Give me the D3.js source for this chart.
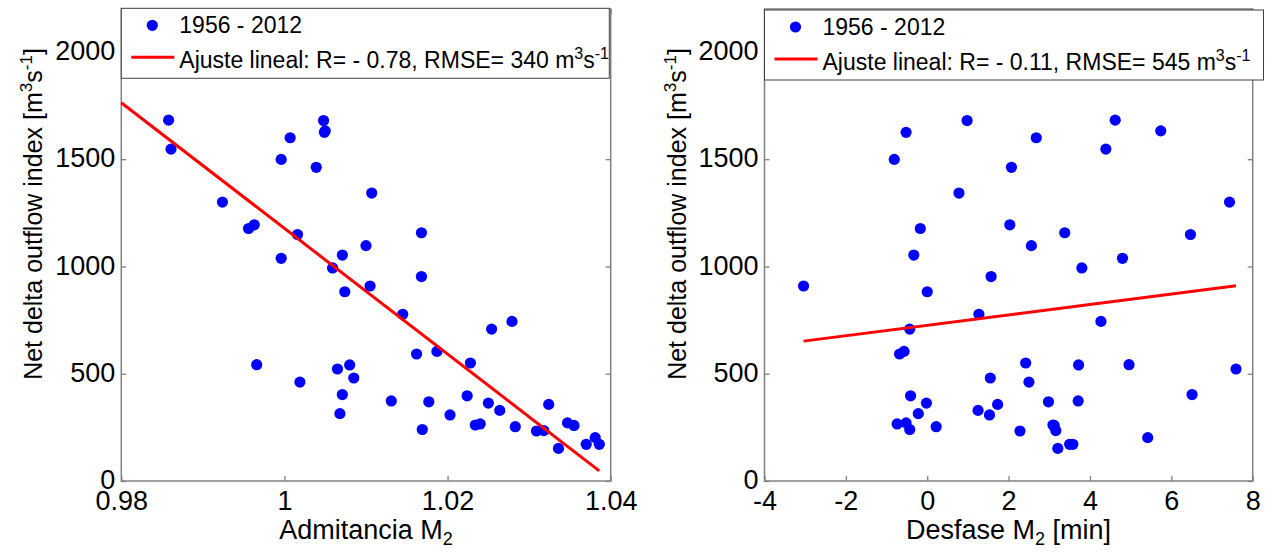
<!DOCTYPE html>
<html><head><meta charset="utf-8">
<script src="https://cdn.jsdelivr.net/npm/d3@7"></script>
<style>body{margin:0;background:#fff} text{font-family:"Liberation Sans",Arial,sans-serif;fill:#000}</style>
</head><body><svg id="c" width="1272" height="557"></svg>
<script>
// Data (one entry per year, 1956-2012 as visible)
const admitancia = [0.9858,0.9861,0.9924,0.9956,0.9963,0.9996,1.0007,0.9996,1.0016,1.0048,1.0049,1.0050,1.0039,1.0071,1.0059,1.0074,1.0107,1.0168,1.0100,1.0168,1.0105,0.9966,1.0019,1.0065,1.0080,1.0085,1.0071,1.0068,1.0145,1.0162,1.0187,1.0228,1.0254,1.0279,1.0131,1.0177,1.0169,1.0203,1.0224,1.0234,1.0240,1.0250,1.0264,1.0283,1.0309,1.0318,1.0324,1.0336,1.0347,1.0355,1.0370,1.0381,1.0386];
const desfase = [4.62,4.39,7.43,-0.17,2.03,-0.81,2.68,4.80,6.47,0.98,-0.52,5.74,2.07,-0.33,3.80,0.00,0.78,3.38,2.56,1.57,-3.04,4.96,2.50,7.59,3.72,1.55,6.51,-0.22,1.27,-0.68,-0.57,2.42,-0.43,4.27,3.71,2.98,-0.43,1.53,-0.41,3.09,-0.74,-0.02,1.25,0.22,2.28,3.16,1.73,3.21,-0.52,3.12,3.50,5.42,3.58];
const ndoi = [1682,1547,1300,1177,1194,1499,1600,1038,1149,1680,1625,1632,1462,1053,993,882,1342,1157,1097,953,909,542,461,522,541,480,403,314,777,592,604,550,708,744,373,369,240,308,397,261,266,363,329,253,233,235,357,152,271,259,171,202,171];
// Linear fit end points
const fitAdmX = [0.98, 1.0386];
const fitAdmY = [1763, 47];
const fitDesX = [-3.04, 7.59];
const fitDesY = [652, 910];
// Ticks / labels
const admTicks = [0.98, 1, 1.02, 1.04];
const admTickLabels = ["0.98", "1", "1.02", "1.04"];
const desTicks = [-4, -2, 0, 2, 4, 6, 8];
const yTicks = [0, 500, 1000, 1500, 2000];
const seriesLabel = "1956 - 2012";
const fitR = ["- 0.78", "- 0.11"];
const fitRMSE = ["340", "545"];

const svg = d3.select("#c");
const FONT = '"Liberation Sans", Arial, sans-serif';
const axisColor = "#808080";

const panels = [
  {x0:121.3, x1:610.7, xDomain:[0.98,1.04], xs:admitancia, ticks:admTicks, tickFmt:(d,i)=>admTickLabels[i],
   fitX:fitAdmX, fitY:fitAdmY, xlabel:"Admitancia M", xlabelTail:"", legTop:8.3, legW:488, r:fitR[0], rmse:fitRMSE[0]},
  {x0:764.5, x1:1252.7, xDomain:[-4,8], xs:desfase, ticks:desTicks, tickFmt:d=>String(d),
   fitX:fitDesX, fitY:fitDesY, xlabel:"Desfase M", xlabelTail:" [min]", legTop:10, legW:499, r:fitR[1], rmse:fitRMSE[1]}
];
const yTop = 9, yBot = 481;

panels.forEach(p => {
  const x = d3.scaleLinear().domain(p.xDomain).range([p.x0, p.x1]);
  const y = d3.scaleLinear().domain([0, 2200]).range([yBot, yTop]);
  const g = svg.append("g");

  // Bottom axis (ticks inside)
  g.append("g").attr("transform", `translate(0,${yBot})`)
    .call(d3.axisBottom(x).tickValues(p.ticks).tickFormat(p.tickFmt).tickSizeInner(-5).tickSizeOuter(0).tickPadding(10));
  // Top axis ticks
  g.append("g").attr("transform", `translate(0,${yTop})`)
    .call(d3.axisTop(x).tickValues(p.ticks).tickFormat("").tickSizeInner(-5).tickSizeOuter(0));
  // Left axis
  g.append("g").attr("transform", `translate(${p.x0},0)`)
    .call(d3.axisLeft(y).tickValues(yTicks).tickFormat(d3.format("d")).tickSizeInner(-5).tickSizeOuter(0).tickPadding(6))
    .selectAll(".tick text").attr("dy", "0.28em");
  // Right axis ticks
  g.append("g").attr("transform", `translate(${p.x1},0)`)
    .call(d3.axisRight(y).tickValues(yTicks).tickFormat("").tickSizeInner(-5).tickSizeOuter(0));

  g.selectAll(".domain").remove();
  g.selectAll(".tick line").attr("stroke", axisColor).attr("stroke-width", 1.3);
  g.selectAll(".tick text").attr("font-family", FONT).attr("font-size", 27).attr("fill", "#000");

  // Box
  g.append("rect").attr("x", p.x0).attr("y", yTop).attr("width", p.x1 - p.x0).attr("height", yBot - yTop)
    .attr("fill", "none").attr("stroke", axisColor).attr("stroke-width", 1.5);

  // Points
  g.append("g").selectAll("circle").data(p.xs.map((v,i)=>[v, ndoi[i]])).join("circle")
    .attr("cx", d => x(d[0])).attr("cy", d => y(d[1])).attr("r", 5.6).attr("fill", "#0000ff");

  // Fit line
  g.append("line").attr("x1", x(p.fitX[0])).attr("y1", y(p.fitY[0]))
    .attr("x2", x(p.fitX[1])).attr("y2", y(p.fitY[1]))
    .attr("stroke", "#ff0000").attr("stroke-width", 3);

  // X label
  const xl = g.append("text").attr("x", (p.x0 + p.x1)/2).attr("y", 539).attr("text-anchor", "middle")
    .attr("font-family", FONT).attr("font-size", 27);
  xl.append("tspan").text(p.xlabel);
  xl.append("tspan").attr("dy", 6).attr("font-size", 18).text("2");
  xl.append("tspan").attr("dy", -6).text(p.xlabelTail);

  // Y label
  const yl = g.append("text").attr("transform", `translate(${p.x0 - 79},214) rotate(-90)`)
    .attr("text-anchor", "middle").attr("font-family", FONT).attr("font-size", 25);
  yl.append("tspan").text("Net delta outflow index [m");
  yl.append("tspan").attr("dy", -10).attr("font-size", 17).text("3");
  yl.append("tspan").attr("dy", 10).text("s");
  yl.append("tspan").attr("dy", -10).attr("font-size", 17).text("-1");
  yl.append("tspan").attr("dy", 10).text("]");

  // Legend
  const lt = p.legTop;
  const lg = g.append("g");
  lg.append("rect").attr("x", p.x0).attr("y", lt).attr("width", p.legW).attr("height", 70)
    .attr("fill", "#fff").attr("stroke", "#404040").attr("stroke-width", 1);
  lg.append("circle").attr("cx", p.x0 + 31).attr("cy", lt + 17).attr("r", 5.6).attr("fill", "#0000ff");
  lg.append("text").attr("x", p.x0 + 58).attr("y", lt + 25).attr("font-family", FONT).attr("font-size", 23).text(seriesLabel);
  lg.append("line").attr("x1", p.x0 + 10).attr("x2", p.x0 + 53).attr("y1", lt + 49).attr("y2", lt + 49)
    .attr("stroke", "#ff0000").attr("stroke-width", 3);
  const t2 = lg.append("text").attr("x", p.x0 + 58).attr("y", lt + 60).attr("font-family", FONT).attr("font-size", 23);
  t2.append("tspan").text(`Ajuste lineal: R= ${p.r}, RMSE= ${p.rmse} m`);
  t2.append("tspan").attr("dy", -9).attr("font-size", 16).text("3");
  t2.append("tspan").attr("dy", 9).text("s");
  t2.append("tspan").attr("dy", -9).attr("font-size", 16).text("-1");
});
</script></body></html>
